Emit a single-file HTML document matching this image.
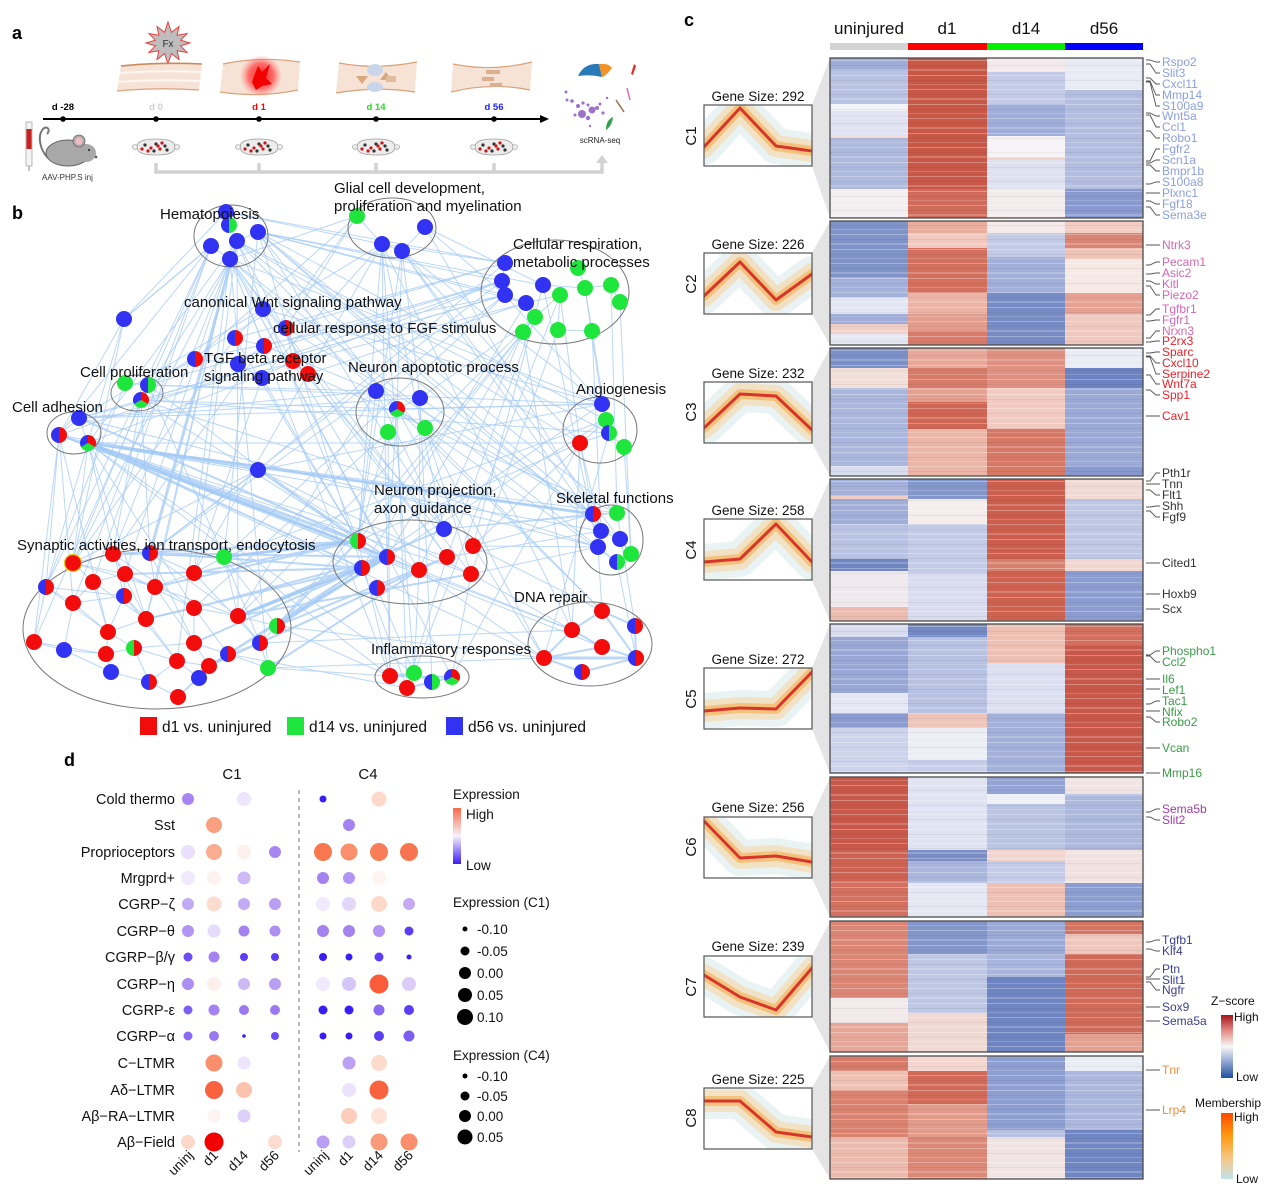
<!DOCTYPE html>
<html><head><meta charset="utf-8"><style>
html,body{margin:0;padding:0;background:#fff}
svg{display:block}
text{font-family:"Liberation Sans",Arial,sans-serif}
</style></head><body>
<svg xmlns="http://www.w3.org/2000/svg" xmlns:xlink="http://www.w3.org/1999/xlink" width="1267" height="1193" viewBox="0 0 1267 1193">
<defs>
<g id="nr"><circle r="8" fill="#f20c0c"/></g>
<g id="ng"><circle r="8" fill="#1ee63c"/></g>
<g id="nb"><circle r="8" fill="#3232f2"/></g>
<g id="nbr"><path d="M0-8A8 8 0 0 0 0 8Z" fill="#3232f2"/><path d="M0-8A8 8 0 0 1 0 8Z" fill="#f20c0c"/></g>
<g id="ngr"><path d="M0-8A8 8 0 0 0 0 8Z" fill="#1ee63c"/><path d="M0-8A8 8 0 0 1 0 8Z" fill="#f20c0c"/></g>
<g id="nbg"><path d="M0-8A8 8 0 0 0 0 8Z" fill="#3232f2"/><path d="M0-8A8 8 0 0 1 0 8Z" fill="#1ee63c"/></g>
<g id="npie"><path d="M0 0L0-8A8 8 0 0 1 6.93 4Z" fill="#f20c0c"/><path d="M0 0L6.93 4A8 8 0 0 1-6.93 4Z" fill="#1ee63c"/><path d="M0 0L-6.93 4A8 8 0 0 1 0-8Z" fill="#3232f2"/></g>
<g id="drg"><path d="M-19 0C-19-6-12-8 0-8S19-6 19 0 12 8 0 8-19 6-19 0Z" fill="#ececec" stroke="#9a9a9a" stroke-width=".8"/><circle cx="-21" cy="0" r="2.5" fill="#ececec" stroke="#9a9a9a" stroke-width=".6"/><circle cx="21" cy="0" r="2.5" fill="#ececec" stroke="#9a9a9a" stroke-width=".6"/>
<g fill="#333"><circle cx="-11" cy="-2" r="1.6"/><circle cx="0" cy="-3" r="1.6"/><circle cx="9" cy="-1" r="1.6"/><circle cx="11" cy="3" r="1.6"/><circle cx="-2" cy="4" r="1.6"/></g>
<g fill="#c81818"><circle cx="-5" cy="1" r="1.6"/><circle cx="4" cy="2" r="1.6"/><circle cx="-8" cy="4" r="1.6"/><circle cx="6" cy="-4" r="1.6"/><circle cx="2" cy="-1" r="1.6"/><circle cx="-14" cy="2" r="1.6"/></g></g>
<pattern id="str" width="313" height="29" patternUnits="userSpaceOnUse">
<rect y="2" width="313" height="1" fill="#fff" opacity=".28"/><rect y="7" width="313" height="1" fill="#000" opacity=".05"/><rect y="11" width="313" height="2" fill="#fff" opacity=".2"/><rect y="17" width="313" height="1" fill="#fff" opacity=".3"/><rect y="22" width="313" height="1" fill="#000" opacity=".05"/><rect y="26" width="313" height="1" fill="#fff" opacity=".18"/></pattern>
<clipPath id="bx"><rect x="704" y="105" width="108" height="61"/><rect x="704" y="253" width="108" height="61"/><rect x="704" y="382" width="108" height="61"/><rect x="704" y="519" width="108" height="61"/><rect x="704" y="668" width="108" height="61"/><rect x="704" y="817" width="108" height="61"/><rect x="704" y="956" width="108" height="61"/><rect x="704" y="1088" width="108" height="61"/></clipPath>
<linearGradient id="zg" x1="0" y1="0" x2="0" y2="1"><stop offset="0" stop-color="#a8141c"/><stop offset=".25" stop-color="#e38d86"/><stop offset=".5" stop-color="#f7f7f7"/><stop offset=".75" stop-color="#8fa3d2"/><stop offset="1" stop-color="#1d4f9e"/></linearGradient>
<linearGradient id="mg" x1="0" y1="0" x2="0" y2="1"><stop offset="0" stop-color="#ff4a00"/><stop offset=".35" stop-color="#ff9a10"/><stop offset=".7" stop-color="#f6c88a"/><stop offset="1" stop-color="#bfe2ea"/></linearGradient>
<linearGradient id="eg" x1="0" y1="0" x2="0" y2="1"><stop offset="0" stop-color="#f86a4a"/><stop offset=".5" stop-color="#f6f2fb"/><stop offset="1" stop-color="#3a1cf5"/></linearGradient>
<radialGradient id="rg"><stop offset="0" stop-color="#ff1a1a"/><stop offset=".6" stop-color="#ff5050" stop-opacity=".8"/><stop offset="1" stop-color="#ff8080" stop-opacity="0"/></radialGradient>
</defs>
<rect width="1267" height="1193" fill="#fff"/>

<!-- ===== Panel a ===== -->
<text x="12" y="39" font-size="18" font-weight="bold">a</text>
<polygon points="190,43 180.6,45.8 187.1,52.5 177.2,50.8 179,59.5 171.4,53.6 168,64 164.6,53.6 157,59.5 158.8,50.8 148.9,52.5 155.4,45.8 146,43 155.4,40.2 148.9,33.5 158.8,35.2 157,26.5 164.6,32.4 168,22 171.4,32.4 179,26.5 177.2,35.2 187.1,33.5 180.6,40.2" fill="#bdbdbd" stroke="#e84040" stroke-width="1"/>
<text x="168" y="47" font-size="10" text-anchor="middle" fill="#333">Fx</text>
<path d="M121 66 Q160 62 202 64 L199 90 Q158 87 117 91 Z" fill="#f6e3d5"/>
<path d="M121 66 Q160 62 202 64" stroke="#c98a5a" stroke-width="1.6" fill="none"/><path d="M117 91 Q158 87 199 90" stroke="#d9a27a" stroke-width="1.2" fill="none"/>
<path d="M120 73 Q160 70 201 72M119 82 Q158 79 200 81" stroke="#fff" stroke-width="2" opacity=".7" fill="none"/>
<path d="M223 64 Q261 56 300 62 L298 90 Q260 98 220 92 Z" fill="#f6e3d5"/>
<path d="M223 64 Q261 56 300 62M220 92 Q260 98 298 90" stroke="#d9a27a" stroke-width="1.2" fill="none"/>
<circle cx="261" cy="76" r="21" fill="url(#rg)"/>
<polygon points="252,82 258,66 262,72 270,64 266,78 272,84 262,86 256,90" fill="#f00000"/>
<path d="M339 63 Q376 70 417 62 L415 92 Q376 86 336 93 Z" fill="#f6e3d5"/>
<path d="M339 63 Q376 70 417 62M336 93 Q376 86 415 92" stroke="#d9a27a" stroke-width="1.2" fill="none"/>
<ellipse cx="375" cy="70" rx="8" ry="6" fill="#c9d6ea"/><ellipse cx="375" cy="87" rx="8" ry="5" fill="#c9d6ea"/>
<polygon points="356,76 368,76 362,84" fill="#d7a780"/><polygon points="380,80 392,80 386,72" fill="#d7a780"/><rect x="386" y="76" width="10" height="6" fill="#e2bb9a"/>
<path d="M453 64 Q492 72 532 62 L530 90 Q492 82 451 92 Z" fill="#f6e3d5"/>
<path d="M453 64 Q492 72 532 62M451 92 Q492 82 530 90" stroke="#d9a27a" stroke-width="1.2" fill="none"/>
<rect x="486" y="70" width="14" height="4" fill="#dcb08e"/><rect x="482" y="77" width="12" height="4" fill="#dcb08e"/><rect x="490" y="83" width="12" height="4" fill="#dcb08e"/>
<line x1="43" y1="119" x2="543" y2="119" stroke="#000" stroke-width="2"/>
<polygon points="540,115 549,119 540,123" fill="#000"/>
<g fill="#000"><circle cx="63" cy="119" r="2.8"/><circle cx="156" cy="119" r="2.8"/><circle cx="259" cy="119" r="2.8"/><circle cx="376" cy="119" r="2.8"/><circle cx="494" cy="119" r="2.8"/></g>
<g font-size="9.5" font-weight="bold" text-anchor="middle">
<text x="63" y="110">d -28</text><text x="156" y="110" fill="#cfcfcf">d 0</text><text x="259" y="110" fill="#f00">d 1</text><text x="376" y="110" fill="#22dd22">d 14</text><text x="494" y="110" fill="#2222ee">d 56</text></g>
<rect x="26" y="122" width="6" height="44" fill="#f4f4f4" stroke="#aaa" stroke-width=".8"/><rect x="26.5" y="129" width="5" height="20" fill="#cc1f1f"/><line x1="29" y1="166" x2="29" y2="171" stroke="#888"/>
<path d="M48 158 C40 150 37 136 43 129 C47 125 51 130 47 134" stroke="#777" fill="none" stroke-width="2"/>
<ellipse cx="68" cy="153" rx="22" ry="13" fill="#a8a8a8" stroke="#666" stroke-width="1"/>
<ellipse cx="86" cy="153" rx="10" ry="9" fill="#a8a8a8"/>
<circle cx="79" cy="141" r="6" fill="#a8a8a8" stroke="#666" stroke-width=".8"/><circle cx="79" cy="141" r="3.8" fill="#f2b8c6"/>
<circle cx="89" cy="150" r="1.1" fill="#333"/><circle cx="96" cy="157" r="1.3" fill="#555"/>
<text x="42" y="180" font-size="8" fill="#333">AAV-PHP.S inj</text>
<use href="#drg" x="156" y="147"/><use href="#drg" x="259" y="147"/><use href="#drg" x="376" y="147"/><use href="#drg" x="494" y="147"/>
<path d="M156 163V172H602V161M259 163V172M376 163V172M494 163V172" stroke="#d2d2d2" stroke-width="3.5" fill="none"/>
<polygon points="596,163 602,155 608,163" fill="#d2d2d2"/>
<path d="M578 76 Q584 63 599 64 L602 77 Q590 74 578 76Z" fill="#2a7ab8"/>
<path d="M599 64 Q609 63 612 68 Q606 76 602 77Z" fill="#f39325"/>
<path d="M631 74 L634 64 L636 66 L633 75Z" fill="#e0302a"/>
<g fill="#9b72cc"><circle cx="566" cy="92" r="1.5"/><circle cx="567" cy="100" r="1.5"/><circle cx="572" cy="101" r="1.8"/><circle cx="578" cy="106" r="2"/><circle cx="583" cy="103" r="1.6"/><circle cx="588" cy="105" r="1.5"/><circle cx="582" cy="114" r="4"/><circle cx="592" cy="110" r="3.5"/><circle cx="597" cy="108" r="2"/><circle cx="600" cy="104" r="1.5"/><circle cx="588" cy="118" r="2.2"/><circle cx="575" cy="115" r="1.5"/><circle cx="590" cy="126" r="1.2"/><circle cx="607" cy="98" r="1.2"/><circle cx="603" cy="113" r="1.6"/></g>
<path d="M627 88 L630 100" stroke="#e26ab0" stroke-width="1.5"/><path d="M616 100 L624 112" stroke="#9b6a4a" stroke-width="1.5"/>
<path d="M606 130 Q606 120 613 117 Q612 126 606 130Z" fill="#2ea34a"/>
<text x="600" y="143" font-size="8" text-anchor="middle" fill="#222">scRNA-seq</text>

<!-- ===== Panel b ===== -->
<text x="12" y="219" font-size="18" font-weight="bold">b</text>
<g fill="none" stroke="#9fc8f5" stroke-opacity=".72" stroke-linecap="round">
<path stroke-width="1" d="M230 259L73 563M230 259L113 554M211 246L46 587M230 259L125 574M237 241L194 573M230 259L155 587M211 246L34 642M230 259L146 619M237 241L238 616M230 259L177 661M258 232L224 557M230 259L268 668M237 241L358 541M230 259L387 557M258 232L362 568M230 259L419 570M258 232L444 529M211 246L59 435M230 259L141 400M211 246L124 319M230 259L376 391M258 232L505 295M258 232L502 281M226 212L382 244M237 241L580 443M230 259L390 676M258 232L593 514M237 241L308 374M230 259L264 346M226 212L505 263M258 232L397 409M230 259L602 404M237 241L88 443M258 232L601 531M230 259L452 677"/>
<path stroke-width="1" d="M258 232L617 513M237 241L620 539M230 259L598 547M258 232L606 420M237 241L609 433M258 232L543 285M258 232L526 303M230 259L471 574M230 259L447 557M237 241L602 611M211 246L93 582M211 246L73 603M226 212L124 319"/>
<path stroke-width="1" d="M382 244L505 263M402 251L397 409M382 244L444 529M382 244L194 573M357 216L286 328M402 251L602 404M402 251L601 531M382 244L572 630M382 244L414 673M402 251L420 398M357 216L230 259M382 244L262 378M402 251L358 541M425 227L543 285M425 227L593 514M357 216L113 554M402 251L580 443M382 244L358 541M425 227L505 295M402 251L631 554M382 244L387 557M357 216L195 359M382 244L148 385"/>
<path stroke-width="1" d="M505 295L224 557M502 281L150 553M523 332L387 557M535 317L447 557M535 317L420 398M526 303L308 374M560 295L414 673M505 263L258 470M502 281L148 385M502 281L88 443M592 331L606 420M611 285L617 513M523 332L572 630M505 295L376 391M526 303L362 568M558 330L471 574M505 263L286 328M543 285L473 546M592 331L601 531M620 302L631 554M535 317L239 616M505 295L195 359M523 332L277 626M502 281L59 435M505 295L141 400M526 303L79 418M543 285L598 547M560 295L580 443M585 288L602 404M523 332L419 570M535 317L358 541M505 263L235 338M502 281L264 346"/>
<path stroke-width="1" d="M88 443L580 443M79 418L376 391M79 418L602 404M88 443L593 514M88 443L544 658M88 443L390 676M59 435L46 587M59 435L34 642M88 443L73 563M88 443L124 596M79 418L263 309M59 435L124 319M88 443L258 470M88 443L447 557M79 418L598 547M88 443L419 570M59 435L108 632M88 443L471 574M88 443L601 531M88 443L617 513M79 418L420 398M88 443L602 647M59 435L572 630M88 443L414 673M79 418L505 295M88 443L146 619M88 443L194 608M59 435L73 603"/>
<path stroke-width="1" d="M141 400L397 409M141 400L609 433M148 385L358 541M141 400L598 547M141 400L73 563M125 383L46 587M148 385L224 557M141 400L387 557M148 385L376 391M141 400L113 554M148 385L602 404M141 400L150 553"/>
<path stroke-width="1" d="M397 409L387 557M376 391L444 529M397 409L407 688M420 398L432 682M397 409L602 404M420 398L593 514M397 409L602 611M376 391L238 616M388 432L194 608M397 409L473 546M425 428L544 658M376 391L150 553M388 432L358 541M376 391L358 541M420 398L419 570M425 428L471 574M397 409L617 562M388 432L390 676"/>
<path stroke-width="1" d="M580 443L593 514M606 420L473 546M580 443L452 677M580 443L572 630M602 404L277 626M606 420L387 557M580 443L358 541M609 433L544 658M606 420L224 557M624 447L631 554M580 443L601 531M602 404L505 295"/>
<path stroke-width="1" d="M387 557L390 676M419 570L414 673M447 557L407 688M471 574L452 677M473 546L544 658M471 574L572 630M473 546L593 514M471 574L598 547M444 529L617 513M473 546L602 611M258 470L59 435M258 470L358 541M258 470L150 553M258 470L73 563M258 470L387 557M473 546L598 547M447 557L601 531M444 529L593 514M387 557L572 630M419 570L544 658M358 541L390 676M362 568L407 688M377 588L414 673M258 470L471 574M258 470L419 570M258 470L602 404M263 309L602 404M286 328L593 514M308 374L617 513M293 361L444 529M235 338L358 541"/>
<path stroke-width="1" d="M73 563L113 554M113 554L150 553M73 563L93 582M93 582L125 574M125 574L155 587M155 587L194 573M46 587L73 603M73 603L124 596M124 596L146 619M146 619L194 608M194 608L238 616M108 632L146 619M34 642L64 650M64 650L106 654M106 654L134 648M134 648L177 661M177 661L209 666M209 666L228 654M228 654L260 643M260 643L277 626M111 672L149 682M149 682L178 697M178 697L199 678M199 678L228 654M194 643L228 654M155 587L194 643M125 574L194 608M113 554L224 557M150 553L238 616M73 563L155 587M93 582L146 619M46 587L108 632M64 650L111 672M134 648L149 682M194 573L260 643M224 557L277 626M177 661L199 678M108 632L134 648M34 642L106 654M46 587L124 596M73 603L108 632"/>
<path stroke-width="1" d="M113 554L125 574M150 553L194 573M194 573L224 557M224 557L238 616M238 616L260 643M238 616L277 626M194 608L228 654M146 619L177 661M108 632L106 654M73 603L93 582M155 587L146 619M125 574L124 596M124 596L108 632M34 642L46 587M64 650L73 603M106 654L111 672M149 682L177 661M178 697L209 666M199 678L209 666M134 648L194 643M194 643L209 666M194 608L194 643M155 587L238 616M113 554L194 608M73 563L125 574M150 553L155 587M224 557L260 643M93 582L108 632M46 587L34 642M268 668L260 643M228 654L268 668M113 554L146 619M150 553L194 643M124 596L177 661"/>
<path stroke-width="1" d="M277 626L390 676M268 668L390 676M228 654L407 688M277 626L544 658M268 668L544 658M260 643L572 630M593 514L617 513M601 531L620 539M598 547L617 562M593 514L601 531M620 539L631 554M617 513L635 626M598 547L602 611M617 562L636 658M505 263L502 281M502 281L505 295M505 295L526 303M526 303L560 295M543 285L585 288M585 288L611 285M611 285L620 302M560 295L535 317M535 317L523 332M558 330L592 331M578 268L585 288M560 295L558 330M585 288L592 331M226 212L229 225M229 225L237 241M237 241L258 232M211 246L230 259M237 241L230 259M357 216L382 244M382 244L402 251M425 227L402 251M376 391L397 409M397 409L388 432M397 409L425 428M420 398L397 409M602 404L606 420M606 420L609 433M609 433L580 443M609 433L624 447M125 383L148 385M148 385L141 400M79 418L59 435M59 435L88 443M79 418L88 443M124 319L211 246M124 319L46 587M124 319L73 563M263 309L235 338M235 338L264 346M264 346L238 364M238 364L262 378M195 359L238 364M286 328L293 361M293 361L308 374M262 378L358 541M264 346L376 391M308 374L447 557M195 359L148 385M235 338L73 563M262 378L194 573"/>
<path stroke-width="2" d="M224 557L358 541M238 616L362 568M260 643L419 570M194 573L358 541M228 654L387 557M209 666L362 568M277 626L447 557M268 668L419 570M194 643L387 557M155 587L358 541M238 616L471 574M150 553L362 568M277 626L358 541M602 611L572 630M602 611L635 626M572 630L544 658M602 647L636 658M635 626L636 658M582 672L636 658M544 658L582 672M572 630L602 647M602 611L636 658M544 658L602 647M390 676L414 673M414 673L432 682M407 688L432 682M390 676L452 677M432 682L452 677M88 443L362 568M59 435L387 557M79 418L358 541M113 554L358 541M150 553L387 557M125 574L362 568M146 619L362 568M194 608L387 557M209 666L419 570M260 643L447 557M238 616L444 529"/>
<path stroke-width="3" d="M88 443L358 541M88 443L387 557M224 557L358 541M277 626L387 557M544 658L636 658M237 241L150 553M239 616L387 557M88 443L593 514"/>
</g>
<g fill="none" stroke="#777" stroke-width="1">
<ellipse cx="231" cy="236" rx="37" ry="31"/><ellipse cx="392" cy="228" rx="44" ry="30"/><ellipse cx="555" cy="292" rx="74" ry="52"/><ellipse cx="137" cy="393" rx="26" ry="18"/><ellipse cx="74" cy="433" rx="27" ry="21"/><ellipse cx="400" cy="412" rx="44" ry="34"/><ellipse cx="600" cy="430" rx="37" ry="33"/><ellipse cx="410" cy="562" rx="77" ry="42"/><ellipse cx="611" cy="540" rx="32" ry="35"/><ellipse cx="590" cy="644" rx="62" ry="42"/><ellipse cx="422" cy="677" rx="47" ry="21"/><ellipse cx="157" cy="629" rx="134" ry="80"/>
</g>
<use href="#nb" x="226" y="212"/><use href="#nbg" x="229" y="225"/><use href="#nb" x="258" y="232"/><use href="#nb" x="237" y="241"/><use href="#nb" x="211" y="246"/><use href="#nb" x="230" y="259"/>
<use href="#ng" x="357" y="216"/><use href="#nb" x="425" y="227"/><use href="#nb" x="382" y="244"/><use href="#nb" x="402" y="251"/>
<use href="#nb" x="505" y="263"/><use href="#nb" x="502" y="281"/><use href="#nb" x="505" y="295"/><use href="#nb" x="543" y="285"/><use href="#nb" x="526" y="303"/>
<use href="#ng" x="578" y="268"/><use href="#ng" x="560" y="295"/><use href="#ng" x="585" y="288"/><use href="#ng" x="611" y="285"/><use href="#ng" x="620" y="302"/><use href="#ng" x="535" y="317"/><use href="#ng" x="523" y="332"/><use href="#ng" x="558" y="330"/><use href="#ng" x="592" y="331"/>
<use href="#nb" x="124" y="319"/>
<use href="#nb" x="263" y="309"/><use href="#nbr" x="286" y="328"/><use href="#nbr" x="235" y="338"/><use href="#nbr" x="264" y="346"/><use href="#nbr" x="195" y="359"/><use href="#nr" x="293" y="361"/><use href="#nb" x="238" y="364"/><use href="#nb" x="262" y="378"/><use href="#nr" x="308" y="374"/>
<use href="#ng" x="125" y="383"/><use href="#nbg" x="148" y="385"/><use href="#npie" x="141" y="400"/>
<use href="#nb" x="79" y="418"/><use href="#nbr" x="59" y="435"/><use href="#npie" x="88" y="443"/>
<use href="#nb" x="376" y="391"/><use href="#nb" x="420" y="398"/><use href="#npie" x="397" y="409"/><use href="#ng" x="388" y="432"/><use href="#ng" x="425" y="428"/>
<use href="#nb" x="602" y="404"/><use href="#ng" x="606" y="420"/><use href="#nbg" x="609" y="433"/><use href="#nr" x="580" y="443"/><use href="#ng" x="624" y="447"/>
<use href="#nb" x="258" y="470"/>
<use href="#nb" x="444" y="529"/><use href="#ngr" x="358" y="541"/><use href="#nr" x="473" y="546"/><use href="#nbr" x="387" y="557"/><use href="#nr" x="447" y="557"/><use href="#nbr" x="362" y="568"/><use href="#nr" x="419" y="570"/><use href="#nr" x="471" y="574"/><use href="#nbr" x="377" y="588"/>
<use href="#nbr" x="593" y="514"/><use href="#ng" x="617" y="513"/><use href="#nb" x="601" y="531"/><use href="#nb" x="620" y="539"/><use href="#nb" x="598" y="547"/><use href="#ng" x="631" y="554"/><use href="#nbg" x="617" y="562"/>
<use href="#nr" x="602" y="611"/><use href="#nr" x="572" y="630"/><use href="#nbr" x="635" y="626"/><use href="#nr" x="602" y="647"/><use href="#nr" x="544" y="658"/><use href="#nbr" x="636" y="658"/><use href="#nbr" x="582" y="672"/>
<use href="#nr" x="390" y="676"/><use href="#ng" x="414" y="673"/><use href="#nr" x="407" y="688"/><use href="#nbg" x="432" y="682"/><use href="#npie" x="452" y="677"/>
<circle cx="73" cy="563" r="8.5" fill="#f20c0c" stroke="#e8d000" stroke-width="1.2"/>
<use href="#nr" x="113" y="554"/><use href="#nbr" x="150" y="553"/><use href="#ng" x="224" y="557"/><use href="#nr" x="93" y="582"/><use href="#nr" x="125" y="574"/><use href="#nr" x="194" y="573"/><use href="#nbr" x="46" y="587"/><use href="#nr" x="155" y="587"/><use href="#nr" x="73" y="603"/><use href="#nbr" x="124" y="596"/><use href="#nr" x="194" y="608"/><use href="#nr" x="146" y="619"/><use href="#nr" x="238" y="616"/><use href="#nr" x="108" y="632"/><use href="#ngr" x="277" y="626"/><use href="#nr" x="34" y="642"/><use href="#nb" x="64" y="650"/><use href="#nr" x="106" y="654"/><use href="#ngr" x="134" y="648"/><use href="#nr" x="194" y="643"/><use href="#nbr" x="228" y="654"/><use href="#nbr" x="260" y="643"/><use href="#nr" x="177" y="661"/><use href="#nr" x="209" y="666"/><use href="#ng" x="268" y="668"/><use href="#nb" x="111" y="672"/><use href="#nbr" x="149" y="682"/><use href="#nb" x="199" y="678"/><use href="#nr" x="178" y="697"/>
<g font-size="15" fill="#111">
<text x="160" y="219">Hematopoiesis</text>
<text x="334" y="193">Glial cell development,</text><text x="334" y="211">proliferation and myelination</text>
<text x="513" y="249">Cellular respiration,</text><text x="513" y="267">metabolic processes</text>
<text x="184" y="307">canonical Wnt signaling pathway</text>
<text x="273" y="333">cellular response to FGF stimulus</text>
<text x="204" y="363">TGF beta receptor</text><text x="204" y="381">signaling pathway</text>
<text x="80" y="377">Cell proliferation</text>
<text x="348" y="372">Neuron apoptotic process</text>
<text x="576" y="394">Angiogenesis</text>
<text x="12" y="412">Cell adhesion</text>
<text x="374" y="495">Neuron projection,</text><text x="374" y="513">axon guidance</text>
<text x="556" y="503">Skeletal functions</text>
<text x="17" y="550">Synaptic activities, ion transport, endocytosis</text>
<text x="514" y="602">DNA repair</text>
<text x="371" y="654">Inflammatory responses</text>
</g>
<rect x="140" y="717" width="17" height="18" fill="#f20c0c"/><rect x="287" y="717" width="17" height="18" fill="#1ee63c"/><rect x="446" y="717" width="17" height="18" fill="#3232f2"/>
<g font-size="15.5" fill="#111"><text x="162" y="732">d1 vs. uninjured</text><text x="309" y="732">d14 vs. uninjured</text><text x="468" y="732">d56 vs. uninjured</text></g>

<!-- ===== Panel c ===== -->
<text x="684" y="26" font-size="18" font-weight="bold">c</text>
<g font-size="17" text-anchor="middle" fill="#111"><text x="869" y="34">uninjured</text><text x="947" y="34">d1</text><text x="1026" y="34">d14</text><text x="1104" y="34">d56</text></g>
<rect x="830" y="43" width="78" height="7" fill="#d3d3d3"/><rect x="908" y="43" width="79" height="7" fill="#ff0000"/><rect x="987" y="43" width="78" height="7" fill="#00f000"/><rect x="1065" y="43" width="78" height="7" fill="#0000ff"/>
<g fill="#e4e4e4">
<polygon points="812,105 830,58 830,218 812,166"/><polygon points="812,253 830,221 830,345 812,314"/><polygon points="812,382 830,348 830,476 812,443"/><polygon points="812,519 830,479 830,621 812,580"/><polygon points="812,668 830,624 830,773 812,729"/><polygon points="812,817 830,777 830,917 812,878"/><polygon points="812,956 830,921 830,1052 812,1017"/><polygon points="812,1088 830,1056 830,1179 812,1149"/>
</g>
<rect x="830" y="58" width="78" height="13" fill="#9eacd7"/><rect x="830" y="71" width="78" height="33" fill="#b8c2e2"/><rect x="830" y="104" width="78" height="7" fill="#f3f2f6"/><rect x="830" y="111" width="78" height="25" fill="#dfe2f1"/><rect x="830" y="136" width="78" height="2" fill="#f5dcd6"/><rect x="830" y="138" width="78" height="51" fill="#aeb9de"/><rect x="830" y="189" width="78" height="29" fill="#f3eef0"/>
<rect x="908" y="58" width="79" height="131" fill="#c75747"/><rect x="908" y="189" width="79" height="29" fill="#d06a5a"/>
<rect x="987" y="58" width="78" height="14" fill="#f3e8ea"/><rect x="987" y="72" width="78" height="32" fill="#c3cbe6"/><rect x="987" y="104" width="78" height="32" fill="#9fadd8"/><rect x="987" y="136" width="78" height="21" fill="#f5f3f6"/><rect x="987" y="157" width="78" height="3" fill="#f3d2cb"/><rect x="987" y="160" width="78" height="29" fill="#dde1f0"/><rect x="987" y="189" width="78" height="29" fill="#f3eced"/>
<rect x="1065" y="58" width="78" height="32" fill="#e8eaf4"/><rect x="1065" y="90" width="78" height="99" fill="#b2bde0"/><rect x="1065" y="189" width="78" height="29" fill="#8899cf"/>
<rect x="830" y="221" width="78" height="56" fill="#7f93c8"/><rect x="830" y="277" width="78" height="20" fill="#a4b1da"/><rect x="830" y="297" width="78" height="17" fill="#e2e5f2"/><rect x="830" y="314" width="78" height="10" fill="#9eacd7"/><rect x="830" y="324" width="78" height="10" fill="#f0cfc6"/><rect x="830" y="334" width="78" height="11" fill="#e5e8f3"/>
<rect x="908" y="221" width="79" height="12" fill="#e9ad9e"/><rect x="908" y="233" width="79" height="15" fill="#f1c8bd"/><rect x="908" y="248" width="79" height="45" fill="#d26f5d"/><rect x="908" y="293" width="79" height="21" fill="#ebb4a6"/><rect x="908" y="314" width="79" height="16" fill="#e39d8d"/><rect x="908" y="330" width="79" height="15" fill="#d77c6a"/>
<rect x="987" y="221" width="78" height="12" fill="#f4eaea"/><rect x="987" y="233" width="78" height="24" fill="#c2cae6"/><rect x="987" y="257" width="78" height="36" fill="#a2afd9"/><rect x="987" y="293" width="78" height="52" fill="#778cc5"/>
<rect x="1065" y="221" width="78" height="12" fill="#f1cdc3"/><rect x="1065" y="233" width="78" height="15" fill="#da8574"/><rect x="1065" y="248" width="78" height="11" fill="#efc2b6"/><rect x="1065" y="259" width="78" height="34" fill="#f6e8e5"/><rect x="1065" y="293" width="78" height="21" fill="#e5a293"/><rect x="1065" y="314" width="78" height="31" fill="#efc9bf"/>
<rect x="830" y="348" width="78" height="20" fill="#7b90c7"/><rect x="830" y="368" width="78" height="20" fill="#f3dfda"/><rect x="830" y="388" width="78" height="78" fill="#aab6dc"/><rect x="830" y="466" width="78" height="10" fill="#d8ddef"/>
<rect x="908" y="348" width="79" height="20" fill="#e7a899"/><rect x="908" y="368" width="79" height="20" fill="#d67b69"/><rect x="908" y="388" width="79" height="14" fill="#e5a091"/><rect x="908" y="402" width="79" height="27" fill="#cf6553"/><rect x="908" y="429" width="79" height="47" fill="#ebb6a8"/>
<rect x="987" y="348" width="78" height="40" fill="#df9181"/><rect x="987" y="388" width="78" height="41" fill="#f1cbc1"/><rect x="987" y="429" width="78" height="47" fill="#d57866"/>
<rect x="1065" y="348" width="78" height="20" fill="#e9ebf5"/><rect x="1065" y="368" width="78" height="20" fill="#6d83c1"/><rect x="1065" y="388" width="78" height="78" fill="#9aa9d6"/><rect x="1065" y="466" width="78" height="10" fill="#8798ce"/>
<rect x="830" y="479" width="78" height="17" fill="#a3b0d9"/><rect x="830" y="496" width="78" height="3" fill="#f0cdc4"/><rect x="830" y="499" width="78" height="25" fill="#a0aed8"/><rect x="830" y="524" width="78" height="35" fill="#b8c2e2"/><rect x="830" y="559" width="78" height="12" fill="#7086c2"/><rect x="830" y="571" width="78" height="36" fill="#efe8ec"/><rect x="830" y="607" width="78" height="14" fill="#ebbcaf"/>
<rect x="908" y="479" width="79" height="20" fill="#8497ca"/><rect x="908" y="499" width="79" height="25" fill="#f5ecec"/><rect x="908" y="524" width="79" height="49" fill="#c3cbe6"/><rect x="908" y="573" width="79" height="48" fill="#d8dcee"/>
<rect x="987" y="479" width="78" height="80" fill="#cb5e4d"/><rect x="987" y="559" width="78" height="12" fill="#d6806e"/><rect x="987" y="571" width="78" height="50" fill="#cd6250"/>
<rect x="1065" y="479" width="78" height="20" fill="#f2dad4"/><rect x="1065" y="499" width="78" height="60" fill="#bec7e4"/><rect x="1065" y="559" width="78" height="12" fill="#f1d6cf"/><rect x="1065" y="571" width="78" height="50" fill="#8b9cd0"/>
<rect x="830" y="624" width="78" height="13" fill="#d7dcee"/><rect x="830" y="637" width="78" height="56" fill="#98a7d5"/><rect x="830" y="693" width="78" height="20" fill="#e4e7f3"/><rect x="830" y="713" width="78" height="15" fill="#8a9bd0"/><rect x="830" y="728" width="78" height="45" fill="#ccd3ea"/>
<rect x="908" y="624" width="79" height="13" fill="#7489c3"/><rect x="908" y="637" width="79" height="76" fill="#b7c1e1"/><rect x="908" y="713" width="79" height="15" fill="#efc4b8"/><rect x="908" y="728" width="79" height="32" fill="#eceef6"/><rect x="908" y="760" width="79" height="13" fill="#c7cee8"/>
<rect x="987" y="624" width="78" height="39" fill="#eebfb3"/><rect x="987" y="663" width="78" height="50" fill="#dbdff0"/><rect x="987" y="713" width="78" height="60" fill="#a3b0d9"/>
<rect x="1065" y="624" width="78" height="22" fill="#d36f5e"/><rect x="1065" y="646" width="78" height="127" fill="#c85849"/>
<rect x="830" y="777" width="78" height="73" fill="#c85849"/><rect x="830" y="850" width="78" height="32" fill="#cd6252"/><rect x="830" y="882" width="78" height="35" fill="#d3705f"/>
<rect x="908" y="777" width="79" height="73" fill="#e0e3f1"/><rect x="908" y="850" width="79" height="11" fill="#788cc5"/><rect x="908" y="861" width="79" height="22" fill="#aab6dc"/><rect x="908" y="883" width="79" height="34" fill="#e5e8f3"/>
<rect x="987" y="777" width="78" height="17" fill="#93a3d3"/><rect x="987" y="794" width="78" height="10" fill="#eef0f7"/><rect x="987" y="804" width="78" height="46" fill="#bac4e3"/><rect x="987" y="850" width="78" height="11" fill="#f1d5ce"/><rect x="987" y="861" width="78" height="22" fill="#c4cce7"/><rect x="987" y="883" width="78" height="34" fill="#eebfb3"/>
<rect x="1065" y="777" width="78" height="17" fill="#f1e4e5"/><rect x="1065" y="794" width="78" height="56" fill="#adb8dd"/><rect x="1065" y="850" width="78" height="33" fill="#f1e1e1"/><rect x="1065" y="883" width="78" height="34" fill="#8c9dd0"/>
<rect x="830" y="921" width="78" height="77" fill="#db8675"/><rect x="830" y="998" width="78" height="25" fill="#f2e9ea"/><rect x="830" y="1023" width="78" height="29" fill="#e7a798"/>
<rect x="908" y="921" width="79" height="33" fill="#8396ca"/><rect x="908" y="954" width="79" height="59" fill="#bec7e4"/><rect x="908" y="1013" width="79" height="39" fill="#f1d9d3"/>
<rect x="987" y="921" width="78" height="33" fill="#9aa9d6"/><rect x="987" y="954" width="78" height="23" fill="#a9b5dc"/><rect x="987" y="977" width="78" height="75" fill="#6f85c2"/>
<rect x="1065" y="921" width="78" height="13" fill="#d47563"/><rect x="1065" y="934" width="78" height="20" fill="#efc6bb"/><rect x="1065" y="954" width="78" height="80" fill="#d06a58"/><rect x="1065" y="1034" width="78" height="18" fill="#e4a091"/>
<rect x="830" y="1056" width="78" height="15" fill="#d67b69"/><rect x="830" y="1071" width="78" height="19" fill="#eebfb3"/><rect x="830" y="1090" width="78" height="47" fill="#d98270"/><rect x="830" y="1137" width="78" height="42" fill="#ecbaad"/>
<rect x="908" y="1056" width="79" height="15" fill="#f3d6cf"/><rect x="908" y="1071" width="79" height="33" fill="#d06957"/><rect x="908" y="1104" width="79" height="33" fill="#e29b8b"/><rect x="908" y="1137" width="79" height="42" fill="#db8877"/>
<rect x="987" y="1056" width="78" height="74" fill="#8d9ed1"/><rect x="987" y="1130" width="78" height="7" fill="#b5c0e1"/><rect x="987" y="1137" width="78" height="42" fill="#f0e3e4"/>
<rect x="1065" y="1056" width="78" height="15" fill="#ebedf5"/><rect x="1065" y="1071" width="78" height="59" fill="#abb7dd"/><rect x="1065" y="1130" width="78" height="49" fill="#7086c2"/>
<g fill="url(#str)" stroke="#4a4a4a" stroke-width="1.3">
<rect x="830" y="58" width="313" height="160"/><rect x="830" y="221" width="313" height="124"/><rect x="830" y="348" width="313" height="128"/><rect x="830" y="479" width="313" height="142"/><rect x="830" y="624" width="313" height="149"/><rect x="830" y="777" width="313" height="140"/><rect x="830" y="921" width="313" height="131"/><rect x="830" y="1056" width="313" height="123"/>
</g>
<g clip-path="url(#bx)" fill="none" stroke-linejoin="round" stroke-linecap="round">
<g stroke="#d6e7ea" stroke-width="36" opacity=".5">
<polyline points="704,147 740,108 776,146 812,151"/><polyline points="704,296 740,262 776,300 812,274"/><polyline points="704,428 740,394 776,396 812,430"/><polyline points="704,562 740,559 776,524 812,562"/><polyline points="704,711 740,708 776,709 812,672"/><polyline points="704,821 740,858 776,856 812,862"/><polyline points="704,975 740,997 776,1010 812,968"/><polyline points="704,1101 740,1101 776,1132 812,1137"/>
</g>
<g stroke="#f8cf95" stroke-width="22" opacity=".5">
<polyline points="704,147 740,108 776,146 812,151"/><polyline points="704,296 740,262 776,300 812,274"/><polyline points="704,428 740,394 776,396 812,430"/><polyline points="704,562 740,559 776,524 812,562"/><polyline points="704,711 740,708 776,709 812,672"/><polyline points="704,821 740,858 776,856 812,862"/><polyline points="704,975 740,997 776,1010 812,968"/><polyline points="704,1101 740,1101 776,1132 812,1137"/>
</g>
<g stroke="#f6a636" stroke-width="10" opacity=".5">
<polyline points="704,147 740,108 776,146 812,151"/><polyline points="704,296 740,262 776,300 812,274"/><polyline points="704,428 740,394 776,396 812,430"/><polyline points="704,562 740,559 776,524 812,562"/><polyline points="704,711 740,708 776,709 812,672"/><polyline points="704,821 740,858 776,856 812,862"/><polyline points="704,975 740,997 776,1010 812,968"/><polyline points="704,1101 740,1101 776,1132 812,1137"/>
</g>
<g stroke="#d8352a" stroke-width="3">
<polyline points="704,147 740,108 776,146 812,151"/><polyline points="704,296 740,262 776,300 812,274"/><polyline points="704,428 740,394 776,396 812,430"/><polyline points="704,562 740,559 776,524 812,562"/><polyline points="704,711 740,708 776,709 812,672"/><polyline points="704,821 740,858 776,856 812,862"/><polyline points="704,975 740,997 776,1010 812,968"/><polyline points="704,1101 740,1101 776,1132 812,1137"/>
</g>
</g>
<g fill="none" stroke="#555" stroke-width="1.2">
<rect x="704" y="105" width="108" height="61"/><rect x="704" y="253" width="108" height="61"/><rect x="704" y="382" width="108" height="61"/><rect x="704" y="519" width="108" height="61"/><rect x="704" y="668" width="108" height="61"/><rect x="704" y="817" width="108" height="61"/><rect x="704" y="956" width="108" height="61"/><rect x="704" y="1088" width="108" height="61"/>
</g>
<g font-size="13.5" text-anchor="middle" fill="#111">
<text x="758" y="101">Gene Size: 292</text><text x="758" y="249">Gene Size: 226</text><text x="758" y="378">Gene Size: 232</text><text x="758" y="515">Gene Size: 258</text><text x="758" y="664">Gene Size: 272</text><text x="758" y="812">Gene Size: 256</text><text x="758" y="951">Gene Size: 239</text><text x="758" y="1084">Gene Size: 225</text>
</g>
<g font-size="15" text-anchor="middle" fill="#111">
<text transform="translate(696,136) rotate(-90)">C1</text><text transform="translate(696,284) rotate(-90)">C2</text><text transform="translate(696,412) rotate(-90)">C3</text><text transform="translate(696,550) rotate(-90)">C4</text><text transform="translate(696,699) rotate(-90)">C5</text><text transform="translate(696,847) rotate(-90)">C6</text><text transform="translate(696,987) rotate(-90)">C7</text><text transform="translate(696,1118) rotate(-90)">C8</text>
</g>
<path fill="none" stroke="#555" stroke-width=".9" d="M1146 60H1150L1156 62H1160M1146 64H1150L1156 73H1160M1146 78H1150L1156 84H1160M1146 81H1150L1156 95H1160M1146 82H1150L1156 106H1160M1146 113H1150L1156 116H1160M1146 115H1150L1156 127H1160M1146 131H1150L1156 138H1160M1146 161H1150L1156 149H1160M1146 163H1150L1156 160H1160M1146 165H1150L1156 171H1160M1146 184H1150L1156 182H1160M1146 193H1160M1146 201H1150L1156 204H1160M1146 207H1150L1156 215H1160M1146 245H1160M1146 265H1150L1156 262H1160M1146 274H1150L1156 273H1160M1146 281H1150L1156 284H1160M1146 286H1150L1156 295H1160M1146 315H1150L1156 309H1160M1146 321H1150L1156 320H1160M1146 338H1150L1156 331H1160M1146 342H1150L1156 341H1160M1146 353H1150L1156 352H1160M1146 356H1150L1156 363H1160M1146 357H1150L1156 374H1160M1146 375H1150L1156 384H1160M1146 390H1150L1156 395H1160M1146 416H1160M1146 481H1150L1156 473H1160M1146 484H1160M1146 490H1150L1156 495H1160M1146 507H1150L1156 506H1160M1146 511H1150L1156 517H1160M1146 563H1160M1146 594H1160M1146 609H1160M1146 655H1150L1156 651H1160M1146 656H1150L1156 662H1160M1146 679H1160M1146 689H1160M1146 704H1150L1156 701H1160M1146 711H1160M1146 717H1150L1156 722H1160M1146 748H1160M1146 773H1160M1146 812H1150L1156 809H1160M1146 817H1150L1156 820H1160M1146 942H1150L1156 940H1160M1146 949H1150L1156 951H1160M1146 977H1150L1156 969H1160M1146 979H1160M1146 982H1150L1156 990H1160M1146 1007H1160M1146 1021H1160M1146 1070H1160M1146 1110H1160"/>
<g font-size="12">
<g fill="#8c9fdc"><text x="1162" y="66">Rspo2</text><text x="1162" y="77">Slit3</text><text x="1162" y="88">Cxcl11</text><text x="1162" y="99">Mmp14</text><text x="1162" y="110">S100a9</text><text x="1162" y="120">Wnt5a</text><text x="1162" y="131">Ccl1</text><text x="1162" y="142">Robo1</text><text x="1162" y="153">Fgfr2</text><text x="1162" y="164">Scn1a</text><text x="1162" y="175">Bmpr1b</text><text x="1162" y="186">S100a8</text><text x="1162" y="197">Plxnc1</text><text x="1162" y="208">Fgf18</text><text x="1162" y="219">Sema3e</text></g>
<g fill="#d566b6"><text x="1162" y="249">Ntrk3</text><text x="1162" y="266">Pecam1</text><text x="1162" y="277">Asic2</text><text x="1162" y="288">Kitl</text><text x="1162" y="299">Piezo2</text><text x="1162" y="313">Tgfbr1</text><text x="1162" y="324">Fgfr1</text><text x="1162" y="335">Nrxn3</text></g>
<g fill="#ea2128"><text x="1162" y="345">P2rx3</text><text x="1162" y="356">Sparc</text><text x="1162" y="367">Cxcl10</text><text x="1162" y="378">Serpine2</text><text x="1162" y="388">Wnt7a</text><text x="1162" y="399">Spp1</text><text x="1162" y="420">Cav1</text></g>
<g fill="#333"><text x="1162" y="477">Pth1r</text><text x="1162" y="488">Tnn</text><text x="1162" y="499">Flt1</text><text x="1162" y="510">Shh</text><text x="1162" y="521">Fgf9</text><text x="1162" y="567">Cited1</text><text x="1162" y="598">Hoxb9</text><text x="1162" y="613">Scx</text></g>
<g fill="#3a9a48"><text x="1162" y="655">Phospho1</text><text x="1162" y="666">Ccl2</text><text x="1162" y="683">Il6</text><text x="1162" y="694">Lef1</text><text x="1162" y="705">Tac1</text><text x="1162" y="716">Nfix</text><text x="1162" y="726">Robo2</text><text x="1162" y="752">Vcan</text><text x="1162" y="777">Mmp16</text></g>
<g fill="#a23aa8"><text x="1162" y="813">Sema5b</text><text x="1162" y="824">Slit2</text></g>
<g fill="#3b3f8f"><text x="1162" y="944">Tgfb1</text><text x="1162" y="955">Klf4</text><text x="1162" y="973">Ptn</text><text x="1162" y="984">Slit1</text><text x="1162" y="994">Ngfr</text><text x="1162" y="1011">Sox9</text><text x="1162" y="1025">Sema5a</text></g>
<g fill="#f08b3a"><text x="1162" y="1074">Tnr</text><text x="1162" y="1114">Lrp4</text></g>
</g>
<text x="1211" y="1005" font-size="12" fill="#111">Z−score</text>
<rect x="1221" y="1015" width="12" height="63" fill="url(#zg)"/>
<text x="1234" y="1021" font-size="12" fill="#111">High</text><text x="1236" y="1081" font-size="12" fill="#111">Low</text>
<text x="1195" y="1107" font-size="12" fill="#111">Membership</text>
<rect x="1221" y="1113" width="12" height="66" fill="url(#mg)"/>
<text x="1234" y="1121" font-size="12" fill="#111">High</text><text x="1236" y="1183" font-size="12" fill="#111">Low</text>

<!-- ===== Panel d ===== -->
<text x="64" y="766" font-size="18" font-weight="bold">d</text>
<g font-size="15" text-anchor="middle" fill="#111"><text x="232" y="779">C1</text><text x="368" y="779">C4</text></g>
<line x1="299" y1="790" x2="299" y2="1152" stroke="#777" stroke-width="1" stroke-dasharray="4 4"/>
<g font-size="14.5" text-anchor="end" fill="#111">
<text x="175" y="804">Cold thermo</text><text x="175" y="830">Sst</text><text x="175" y="857">Proprioceptors</text><text x="175" y="883">Mrgprd+</text><text x="175" y="909">CGRP−ζ</text><text x="175" y="936">CGRP−θ</text><text x="175" y="962">CGRP−β/γ</text><text x="175" y="989">CGRP−η</text><text x="175" y="1015">CGRP-ε</text><text x="175" y="1041">CGRP−α</text><text x="175" y="1068">C−LTMR</text><text x="175" y="1095">Aδ−LTMR</text><text x="175" y="1121">Aβ−RA−LTMR</text><text x="175" y="1147">Aβ−Field</text>
</g>
<g>
<circle cx="188" cy="799" r="6" fill="#a985f2"/><circle cx="244" cy="799" r="7" fill="#ece5fb"/><circle cx="323" cy="799" r="3.5" fill="#3a1cf5"/><circle cx="379" cy="799" r="7.5" fill="#fcd9cb"/>
<circle cx="214" cy="825" r="8" fill="#f9a080"/><circle cx="349" cy="825" r="6" fill="#a482f0"/>
<circle cx="188" cy="852" r="7" fill="#e9e0fb"/><circle cx="214" cy="852" r="8" fill="#f9ac90"/><circle cx="244" cy="852" r="7" fill="#fdf0ec"/><circle cx="275" cy="852" r="6" fill="#a985f2"/>
<circle cx="323" cy="852" r="9" fill="#f8774f"/><circle cx="349" cy="852" r="8.5" fill="#f98f6c"/><circle cx="379" cy="852" r="9" fill="#f87d58"/><circle cx="409" cy="852" r="9" fill="#f8734f"/>
<circle cx="188" cy="878" r="7" fill="#efeafc"/><circle cx="214" cy="878" r="7" fill="#fdf2ef"/><circle cx="244" cy="878" r="6.5" fill="#cdb9f5"/>
<circle cx="323" cy="878" r="6" fill="#a482f0"/><circle cx="349" cy="878" r="6" fill="#b096f2"/><circle cx="379" cy="878" r="7" fill="#fdf3f0"/>
<circle cx="188" cy="904" r="6" fill="#c2aaf4"/><circle cx="214" cy="904" r="7.5" fill="#fcdccf"/><circle cx="244" cy="904" r="6" fill="#c2aaf4"/><circle cx="275" cy="904" r="6" fill="#b99ff3"/>
<circle cx="323" cy="904" r="7" fill="#efeafc"/><circle cx="349" cy="904" r="7" fill="#e2d6f9"/><circle cx="379" cy="904" r="8" fill="#fcd8c9"/><circle cx="409" cy="904" r="6" fill="#c2aaf4"/>
<circle cx="188" cy="931" r="6" fill="#b394f2"/><circle cx="214" cy="931" r="6.5" fill="#e6dcfa"/><circle cx="244" cy="931" r="5.5" fill="#a482f0"/><circle cx="275" cy="931" r="5.5" fill="#ad8ef1"/>
<circle cx="323" cy="931" r="6" fill="#a482f0"/><circle cx="349" cy="931" r="6" fill="#a482f0"/><circle cx="379" cy="931" r="6" fill="#b394f2"/><circle cx="409" cy="931" r="4.5" fill="#5a3cf3"/>
<circle cx="188" cy="957" r="4.5" fill="#6b4cf2"/><circle cx="214" cy="957" r="5.5" fill="#a482f0"/><circle cx="244" cy="957" r="4" fill="#5b3df3"/><circle cx="275" cy="957" r="4" fill="#5b3df3"/>
<circle cx="323" cy="957" r="4" fill="#3a1cf5"/><circle cx="349" cy="957" r="3.5" fill="#3a1cf5"/><circle cx="379" cy="957" r="4.5" fill="#5b3df3"/><circle cx="409" cy="957" r="2.5" fill="#3a1cf5"/>
<circle cx="188" cy="984" r="6" fill="#ad8ef1"/><circle cx="214" cy="984" r="7" fill="#fdf0ec"/><circle cx="244" cy="984" r="6" fill="#cdb9f5"/><circle cx="275" cy="984" r="6" fill="#b99ff3"/>
<circle cx="323" cy="984" r="7" fill="#efeafc"/><circle cx="349" cy="984" r="7" fill="#d6c6f7"/><circle cx="379" cy="984" r="9.5" fill="#fa5c3a"/><circle cx="409" cy="984" r="7" fill="#dccdf8"/>
<circle cx="188" cy="1010" r="4.5" fill="#7c5ef2"/><circle cx="214" cy="1010" r="5.5" fill="#a482f0"/><circle cx="244" cy="1010" r="5" fill="#9a78f0"/><circle cx="275" cy="1010" r="5" fill="#9a78f0"/>
<circle cx="323" cy="1010" r="4.5" fill="#3a1cf5"/><circle cx="349" cy="1010" r="4.5" fill="#3a1cf5"/><circle cx="379" cy="1010" r="5.5" fill="#8a6af1"/><circle cx="409" cy="1010" r="5" fill="#5b3df3"/>
<circle cx="188" cy="1036" r="4.5" fill="#8a6af1"/><circle cx="214" cy="1036" r="5" fill="#9a78f0"/><circle cx="244" cy="1036" r="1.8" fill="#3a1cf5"/><circle cx="275" cy="1036" r="4" fill="#6b4cf2"/>
<circle cx="323" cy="1036" r="3.5" fill="#3a1cf5"/><circle cx="349" cy="1036" r="3.5" fill="#3a1cf5"/><circle cx="379" cy="1036" r="5" fill="#5b3df3"/><circle cx="409" cy="1036" r="5.5" fill="#7c5ef2"/>
<circle cx="214" cy="1063" r="8.5" fill="#f98f6c"/><circle cx="244" cy="1063" r="6.5" fill="#ece5fb"/><circle cx="349" cy="1063" r="6.5" fill="#bba0f3"/><circle cx="379" cy="1063" r="8" fill="#fcdacc"/>
<circle cx="214" cy="1090" r="9" fill="#f8623f"/><circle cx="244" cy="1090" r="8" fill="#fbc3ad"/><circle cx="349" cy="1090" r="7" fill="#ebe3fb"/><circle cx="379" cy="1090" r="9.5" fill="#f8623f"/>
<circle cx="214" cy="1116" r="6.5" fill="#fdf3f0"/><circle cx="244" cy="1116" r="6.5" fill="#ddd0f8"/><circle cx="349" cy="1116" r="8" fill="#fccdba"/><circle cx="379" cy="1116" r="8" fill="#fde2d8"/>
<circle cx="188" cy="1142" r="7" fill="#fcd8c9"/><circle cx="214" cy="1142" r="9.5" fill="#f20000"/><circle cx="275" cy="1142" r="7" fill="#fcdccf"/>
<circle cx="323" cy="1142" r="6.5" fill="#b99ff3"/><circle cx="349" cy="1142" r="6.5" fill="#ddd0f8"/><circle cx="379" cy="1142" r="8.5" fill="#f99a78"/><circle cx="409" cy="1142" r="8.5" fill="#f98f6c"/>
</g>
<g font-size="13.5" text-anchor="end" fill="#111">
<text transform="translate(194,1156) rotate(-45)">uninj</text><text transform="translate(219,1156) rotate(-45)">d1</text><text transform="translate(249,1156) rotate(-45)">d14</text><text transform="translate(280,1156) rotate(-45)">d56</text>
<text transform="translate(329,1156) rotate(-45)">uninj</text><text transform="translate(354,1156) rotate(-45)">d1</text><text transform="translate(384,1156) rotate(-45)">d14</text><text transform="translate(414,1156) rotate(-45)">d56</text>
</g>
<g font-size="13.5" fill="#111">
<text x="453" y="799">Expression</text>
<text x="466" y="819">High</text><text x="466" y="870">Low</text>
<text x="453" y="907">Expression (C1)</text>
<text x="477" y="934">-0.10</text><text x="477" y="956">-0.05</text><text x="477" y="978">0.00</text><text x="477" y="1000">0.05</text><text x="477" y="1022">0.10</text>
<text x="453" y="1060">Expression (C4)</text>
<text x="477" y="1081">-0.10</text><text x="477" y="1101">-0.05</text><text x="477" y="1121">0.00</text><text x="477" y="1142">0.05</text>
</g>
<rect x="453" y="808" width="8" height="56" fill="url(#eg)"/>
<g fill="#000">
<circle cx="465" cy="929" r="2.5"/><circle cx="465" cy="951" r="4.5"/><circle cx="465" cy="973" r="6"/><circle cx="465" cy="995" r="7"/><circle cx="465" cy="1017" r="8"/>
<circle cx="465" cy="1076" r="2.5"/><circle cx="465" cy="1096" r="4.5"/><circle cx="465" cy="1116" r="6"/><circle cx="465" cy="1137" r="7.5"/>
</g>
</svg>
</body></html>
